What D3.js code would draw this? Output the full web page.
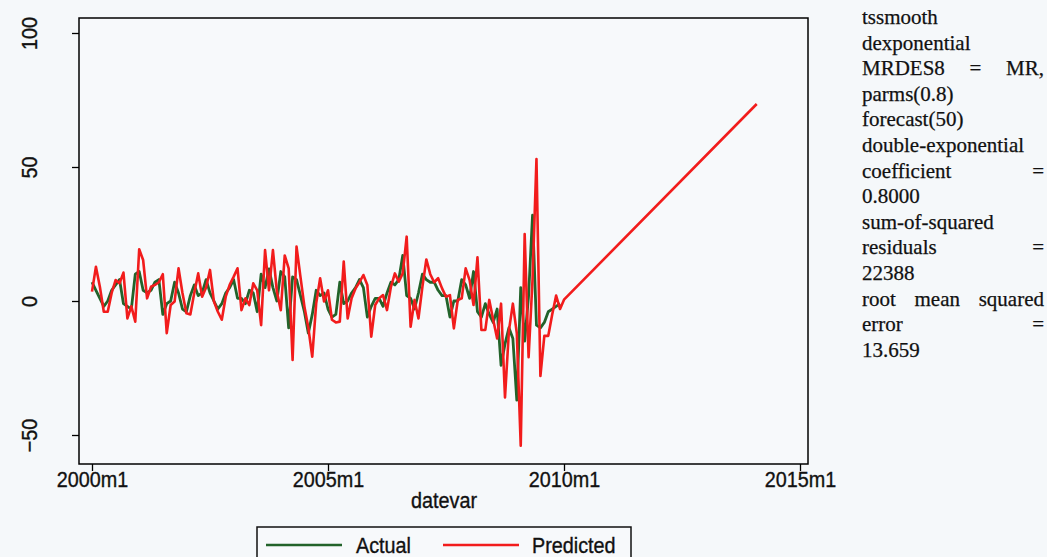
<!DOCTYPE html>
<html>
<head>
<meta charset="utf-8">
<script src="https://cdn.jsdelivr.net/npm/d3@7"></script>
<style>
  body { margin: 0; background: #f5f8fa; }
  svg { display: block; }
</style>
</head>
<body>
<svg id="chart" width="1047" height="557"></svg>
<script>
// monthly data, month 0 = 2000m1
var actual = [
  7, 4, 1, -2, 0, 4, 6, 8, -1, -2,
  -3, 10, 11, 4, 3, 4, 7, 8, -5, -1,
  0, 7, 3, -3, -4, 2, 6, 2, 3, 8,
  3, 0, -3, -1, 3, 5, 8, 1, 1, -1,
  4, 3, -4, 10, 5, 12, 5, 0, 11, 9,
  -10, 9, 8, 2, -4, -12, -5, 4, 2, 3,
  -3, -6, -5, 7, -1, 0, 3, 5, 8, 5,
  -6, -2, 1, 1, -2, 3, 7, 6, 8, 17,
  2, 1, -3, 3, 10, 8, 7, 7, 4, 2,
  2, -6, 0, 0, 8, 6, 1, 11, -4, -6,
  -1, -5, -8, -3, -24, -16, -10, -14, -37, 5,
  -15, 2, 32, -9, -10, -8, -4, -3, -2, -1
];
var predicted = [
  3.5, 12.8, 5.3, -4, -4, 3, 7.8, 6.6, 10.6, -6.5,
  -2, -7.7, 19.3, 15.3, 1, 5.3, 6, 7, 10, -12,
  -1.5, -0.2, 12.2, 3, -4.6, -5, 3, 10.3, 1.6, 5,
  11.6, -0.2, -4, -7, 1.6, 6, 9, 12.2, -3.4, 1,
  -1.5, 6.6, 4, -9, 19, 4, 19, 3.5, -3.4, 17,
  12.2, -22, 20.3, 9, -2, -10, -20.8, -0.9, 8.5, -0.2,
  4, -7, -8, -7.7, 14.7, -6.5, 1, 4.7, 7, 9.7,
  6, -13.3, -1.5, 1, 2.2, -3.4, 5.3, 10.3, 7.2, 10.3,
  24, -9.6, 0.4, -6.5, 5.3, 15.5, 10, 7, 8.5, 4.7,
  1.6, 2.2, -10.2, 0.4, 1, 12.2, 7.8, -1.5, 16.3, -10.8,
  -10.8, 0.4, -7, -14, -1, -36, -11, -1, -12, -54,
  25, -21, 8, 53, -28, -13, -13, -5, 2, -3
];
// forecast(50): straight line from 2010m1 to 2014m2
var forecastMonths = [120, 169];
var forecastValues = [0.5, 73.5];

var xTicks = [0, 60, 120, 180];
var xTickLabels = ["2000m1", "2005m1", "2010m1", "2015m1"];
var yTicks = [-50, 0, 50, 100];
var seriesNames = ["Actual", "Predicted"];
var seriesColors = ["#22632a", "#f21c1c"];

// notes at right, true = justified line
var noteLines = [
  ["tssmooth", false],
  ["dexponential", false],
  ["MRDES8 = MR,", true],
  ["parms(0.8)", false],
  ["forecast(50)", false],
  ["double-exponential", false],
  ["coefficient =", true],
  ["0.8000", false],
  ["sum-of-squared", false],
  ["residuals =", true],
  ["22388", false],
  ["root mean squared", true],
  ["error =", true],
  ["13.659", false]
];

var frame = {left: 79, top: 18, right: 808, bottom: 464};
var sans = "'Liberation Sans', Arial, Helvetica, sans-serif";
var squeeze = 0.9;

var svg = d3.select("#chart");

var x = d3.scaleLinear().domain([0, 180]).range([92, 800]);
var y = d3.scaleLinear().domain([-50, 100]).range([435, 33]);

// plot frame
svg.append("rect")
    .attr("x", frame.left)
    .attr("y", frame.top)
    .attr("width", frame.right - frame.left)
    .attr("height", frame.bottom - frame.top)
    .attr("fill", "#f7f9fb")
    .attr("stroke", "#000")
    .attr("stroke-width", 1.5);

// y axis
var yAxis = svg.append("g")
    .attr("transform", "translate(" + frame.left + ",0)")
    .call(d3.axisLeft(y).tickValues(yTicks).tickSize(7).tickFormat(d3.format("d")));
yAxis.select(".domain").remove();
yAxis.selectAll("line").attr("stroke", "#000").attr("stroke-width", 1.3);
yAxis.selectAll("text")
    .attr("x", null).attr("dy", null)
    .attr("transform", "translate(-42,0) rotate(-90) scale(" + squeeze + ",1)")
    .attr("text-anchor", "middle")
    .attr("fill", "#111")
    .attr("stroke", "#111").attr("stroke-width", 0.35)
    .style("font-family", sans)
    .style("font-size", "22px");

// x axis
var xAxis = svg.append("g")
    .attr("transform", "translate(0," + frame.bottom + ")")
    .call(d3.axisBottom(x).tickValues(xTicks).tickSize(7)
      .tickFormat(function(d, i) { return xTickLabels[i]; }));
xAxis.select(".domain").remove();
xAxis.selectAll("line").attr("stroke", "#000").attr("stroke-width", 1.3);
xAxis.selectAll("text")
    .attr("y", 7).attr("dy", "0.71em")
    .attr("transform", "scale(" + squeeze + ",1)")
    .attr("fill", "#111")
    .attr("stroke", "#111").attr("stroke-width", 0.35)
    .style("font-family", sans)
    .style("font-size", "22px");

svg.append("text")
    .attr("x", 444)
    .attr("y", 508)
    .attr("text-anchor", "middle")
    .attr("transform", "translate(444,0) scale(" + squeeze + ",1) translate(-444,0)")
    .attr("fill", "#111")
    .attr("stroke", "#111").attr("stroke-width", 0.35)
    .style("font-family", sans)
    .style("font-size", "22px")
    .text("datevar");

// lines
var line = d3.line()
    .x(function(d) { return x(d[0]); })
    .y(function(d) { return y(d[1]); });

var actualPts = actual.map(function(v, i) { return [i, v]; });
var predPts = predicted.map(function(v, i) { return [i, v]; })
    .concat(forecastMonths.map(function(m, i) { return [m, forecastValues[i]]; }));

svg.append("path")
    .datum(actualPts)
    .attr("d", line)
    .attr("fill", "none")
    .attr("stroke", seriesColors[0])
    .attr("stroke-width", 2.8)
    .attr("stroke-linejoin", "round");

svg.append("path")
    .datum(predPts)
    .attr("d", line)
    .attr("fill", "none")
    .attr("stroke", seriesColors[1])
    .attr("stroke-width", 2.6)
    .attr("stroke-linejoin", "round");

// legend
var legend = svg.append("g");
legend.append("rect")
    .attr("x", 257).attr("y", 527)
    .attr("width", 374).attr("height", 45)
    .attr("fill", "#f7f9fb")
    .attr("stroke", "#111")
    .attr("stroke-width", 1.5);

var legendX = [[266, 342, 356], [443, 519, 532]];
seriesNames.forEach(function(name, i) {
  legend.append("line")
      .attr("x1", legendX[i][0]).attr("x2", legendX[i][1])
      .attr("y1", 545).attr("y2", 545)
      .attr("stroke", seriesColors[i])
      .attr("stroke-width", 2.6);
  legend.append("text")
      .attr("x", legendX[i][2])
      .attr("y", 553)
      .attr("transform", "translate(" + legendX[i][2] + ",0) scale(" + squeeze + ",1) translate(" + (-legendX[i][2]) + ",0)")
      .attr("fill", "#111")
      .attr("stroke", "#111").attr("stroke-width", 0.35)
      .style("font-family", sans)
      .style("font-size", "22px")
      .text(name);
});

// notes text, justified like the original
var noteLeft = 862, noteRight = 1044, noteTop = 24, noteStep = 25.6;
var notes = svg.append("g")
    .style("font-family", "'Liberation Serif', 'Times New Roman', Times, serif")
    .style("font-size", "21px")
    .attr("fill", "#111")
    .attr("stroke", "#111").attr("stroke-width", 0.25);

noteLines.forEach(function(ln, i) {
  var yy = noteTop + i * noteStep;
  if (!ln[1]) {
    notes.append("text").attr("x", noteLeft).attr("y", yy).text(ln[0]);
    return;
  }
  var words = ln[0].split(" ");
  var nodes = words.map(function(w) {
    return notes.append("text").attr("y", yy).text(w);
  });
  var widths = nodes.map(function(n) { return n.node().getComputedTextLength(); });
  var total = d3.sum(widths);
  var gap = (noteRight - noteLeft - total) / (words.length - 1);
  var pos = noteLeft;
  nodes.forEach(function(n, j) {
    n.attr("x", pos);
    pos += widths[j] + gap;
  });
});
</script>
</body>
</html>
